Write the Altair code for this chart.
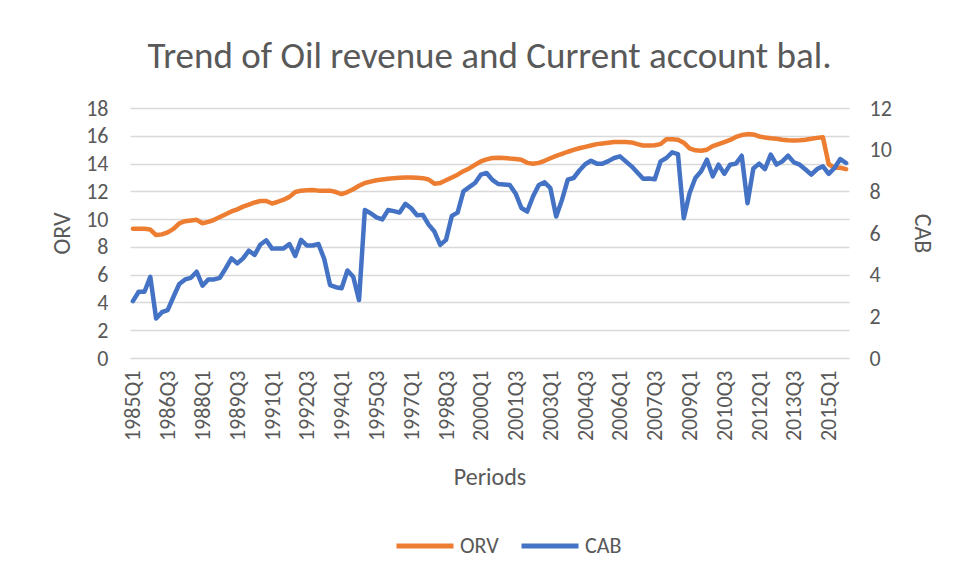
import altair as alt
import pandas as pd

years = list(range(1985, 2016))
quarters = ["Q1", "Q2", "Q3", "Q4"]
periods = [f"{y}{q}" for y in years for q in quarters]
label_periods = periods[::6]

orv = [9.3, 9.3, 9.3, 9.25, 8.85, 8.9, 9.05, 9.3, 9.7, 9.85, 9.9, 9.95,
       9.7, 9.8, 9.95, 10.15, 10.35, 10.55, 10.7, 10.9, 11.05, 11.2, 11.3, 11.3,
       11.12, 11.25, 11.4, 11.6, 11.95, 12.05, 12.08, 12.1, 12.05, 12.05, 12.05, 11.95,
       11.8, 11.95, 12.15, 12.4, 12.6, 12.7, 12.8, 12.85, 12.9, 12.95, 12.98, 13.0,
       13.0, 12.98, 12.95, 12.85, 12.55, 12.6, 12.8, 13.0, 13.2, 13.45, 13.65, 13.9,
       14.15, 14.3, 14.4, 14.42, 14.4, 14.36, 14.33, 14.27, 14.05, 13.98, 14.05, 14.2,
       14.38, 14.55, 14.7, 14.85, 14.98, 15.1, 15.2, 15.3, 15.4, 15.45, 15.5, 15.55,
       15.55, 15.55, 15.52, 15.4, 15.3, 15.3, 15.32, 15.4, 15.75, 15.75, 15.72, 15.5,
       15.1, 14.95, 14.92, 15.0, 15.25, 15.4, 15.55, 15.7, 15.92, 16.05, 16.12, 16.1,
       15.95, 15.88, 15.82, 15.78, 15.72, 15.68, 15.66, 15.68, 15.72, 15.78, 15.85, 15.9,
       13.95, 13.7, 13.7, 13.6]

cab = [2.73, 3.18, 3.18, 3.9, 1.9, 2.2, 2.3, 2.94, 3.55, 3.77, 3.85, 4.14,
       3.47, 3.77, 3.77, 3.85, 4.3, 4.78, 4.54, 4.78, 5.15, 4.95, 5.45, 5.65,
       5.25, 5.26, 5.26, 5.47, 4.9, 5.67, 5.4, 5.4, 5.47, 4.75, 3.5, 3.4,
       3.35, 4.2, 3.9, 2.78, 7.1, 6.95, 6.75, 6.65, 7.1, 7.05, 6.98, 7.4,
       7.19, 6.85, 6.87, 6.4, 6.07, 5.43, 5.67, 6.82, 6.98, 8.0, 8.2, 8.4,
       8.8, 8.88, 8.55, 8.35, 8.33, 8.3, 7.9, 7.2, 7.03, 7.75, 8.3, 8.43,
       8.15, 6.79, 7.59, 8.56, 8.64, 9.0, 9.3, 9.47, 9.33, 9.33, 9.45, 9.6,
       9.68, 9.44, 9.2, 8.9, 8.6, 8.62, 8.58, 9.44, 9.6, 9.87, 9.79, 6.71,
       7.91, 8.64, 8.96, 9.52, 8.72, 9.28, 8.84, 9.28, 9.33, 9.71, 7.43, 9.1,
       9.33, 9.07, 9.76, 9.28, 9.44, 9.71, 9.39, 9.28, 9.05, 8.8, 9.07, 9.2,
       8.84, 9.12, 9.55, 9.36]

series_names = ["ORV", "CAB"]
series_colors = ["#ED7D31", "#4472C4"]
left_ticks = [0, 2, 4, 6, 8, 10, 12, 14, 16, 18]
right_ticks = [0, 2, 4, 6, 8, 10, 12]

FONT = "Calibri, Carlito, Lato, sans-serif"
GREY = "#595959"

df_orv = pd.DataFrame({"Period": periods, "Value": orv, "Series": "ORV"})
df_cab = pd.DataFrame({"Period": periods, "Value": cab, "Series": "CAB"})

x_enc = alt.X(
    "Period:N",
    sort=periods,
    scale=alt.Scale(type="point", padding=0.5),
    axis=alt.Axis(
        values=label_periods, labelAngle=270, title="Periods", ticks=False,
        domain=True, domainColor="#d9d9d9", domainWidth=1,
        labelFontSize=22, labelColor=GREY, labelPadding=12,
        titleFontSize=24, titleColor=GREY, titleFontWeight="normal", titlePadding=25,
    ),
)

color_enc = alt.Color(
    "Series:N",
    scale=alt.Scale(domain=series_names, range=series_colors),
    legend=alt.Legend(
        title=None, orient="none", direction="horizontal",
        legendX=264, legendY=407,
        symbolType="stroke", symbolSize=3249, symbolStrokeWidth=5,
        labelFontSize=22, labelColor=GREY, labelOffset=4, columnPadding=12,
    ),
)

line_orv = alt.Chart(df_orv).mark_line(strokeWidth=4.5, strokeJoin="round", strokeCap="round").encode(
    x=x_enc,
    y=alt.Y(
        "Value:Q",
        scale=alt.Scale(domain=[0, 18], nice=False, zero=True),
        axis=alt.Axis(
            values=left_ticks, orient="left", title="ORV", domain=False, ticks=False,
            grid=True, gridColor="#d9d9d9", gridWidth=1.3,
            labelFontSize=22, labelColor=GREY, labelPadding=22,
            titleFontSize=24, titleColor=GREY, titleFontWeight="normal", titlePadding=11,
        ),
    ),
    color=color_enc,
)

line_cab = alt.Chart(df_cab).mark_line(strokeWidth=4.5, strokeJoin="round", strokeCap="round").encode(
    x=x_enc,
    y=alt.Y(
        "Value:Q",
        scale=alt.Scale(domain=[0, 12], nice=False, zero=True),
        axis=alt.Axis(
            values=right_ticks, orient="right", title="CAB", domain=False, ticks=False,
            grid=False,
            labelFontSize=22, labelColor=GREY, labelPadding=20,
            titleFontSize=24, titleColor=GREY, titleFontWeight="normal", titlePadding=18,
        ),
    ),
    color=color_enc,
)

chart = alt.layer(line_orv, line_cab).resolve_scale(y="independent").properties(
    width=719,
    height=250,
    title=alt.TitleParams(
        "Trend of Oil revenue and Current account bal.",
        fontSize=37, color=GREY, fontWeight="normal", anchor="middle", offset=21, font=FONT,
    ),
    autosize=alt.AutoSizeParams(type="none"),
    padding={"left": 122, "top": 100, "right": 99, "bottom": 212},
).configure(
    font=FONT,
).configure_view(
    stroke=None,
).configure_axis(
    labelFont=FONT, titleFont=FONT,
).configure_legend(
    labelFont=FONT,
)

chart.save("out.html", embed_options={"renderer": "svg", "actions": False})
